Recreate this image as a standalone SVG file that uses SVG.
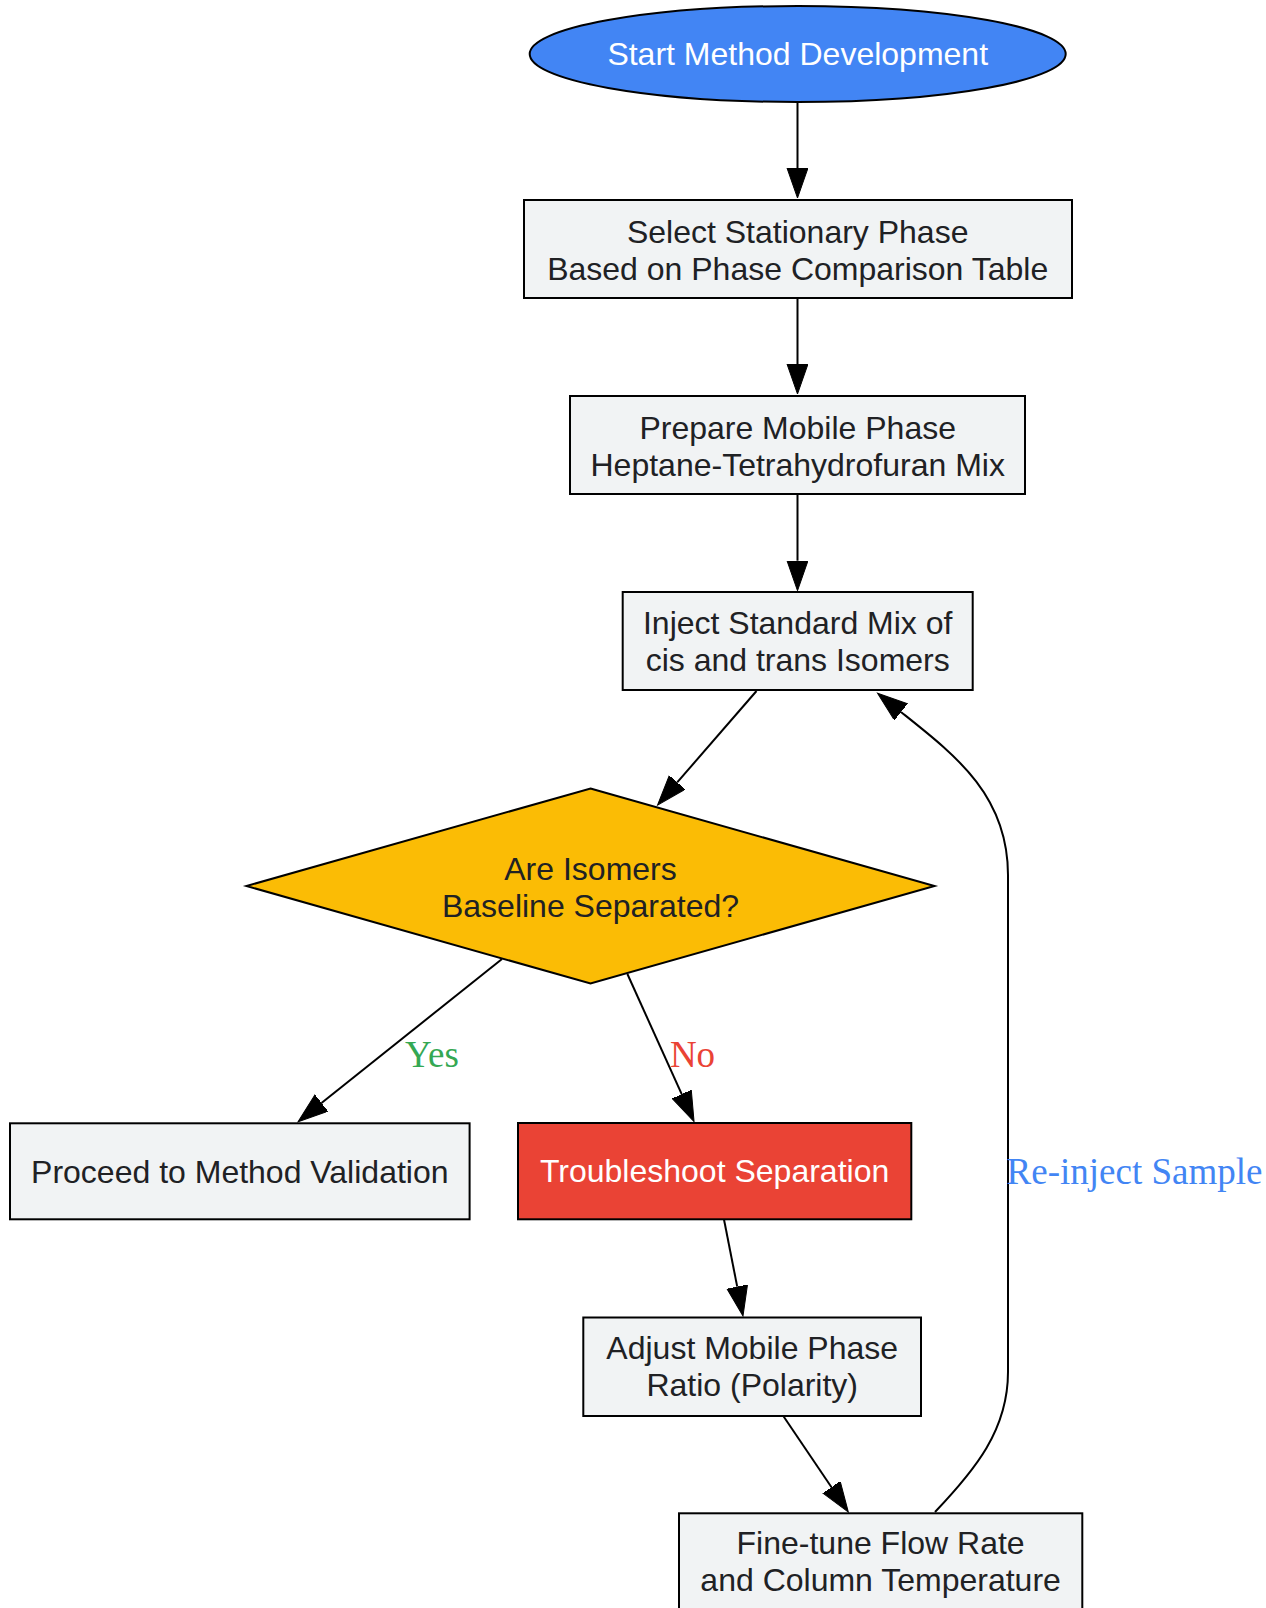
<svg xmlns="http://www.w3.org/2000/svg" width="1266" height="1608" viewBox="0 0 1266 1608">
<style>
.node{fill:#F1F3F4;stroke:#000;stroke-width:2}
.t{font-family:"Liberation Sans",Arial,sans-serif;font-size:32px;fill:#202124;text-anchor:middle}
.w{fill:#FFFFFF}
.e{fill:none;stroke:#000;stroke-width:2}
.lbl{font-family:"Liberation Serif","Times New Roman",serif;font-size:37px;text-anchor:middle}
</style>
<defs>
<marker id="ah" markerUnits="userSpaceOnUse" markerWidth="32" markerHeight="24" refX="0" refY="10.5" orient="auto" viewBox="0 0 32 24">
<path d="M0,0 L30,10.5 L0,21 Z" fill="#000" stroke="#000" stroke-width="1"/>
</marker>
</defs>
<rect width="1266" height="1608" fill="#FFFFFF"/>
<g id="connectors">
<path class="e" d="M797.5,102 L797.5,168" marker-end="url(#ah)"/>
<path class="e" d="M797.5,298 L797.5,364" marker-end="url(#ah)"/>
<path class="e" d="M797.5,494 L797.5,560.7" marker-end="url(#ah)"/>
<path class="e" d="M756.5,691 L677.2,782.4" marker-end="url(#ah)"/>
<path class="e" d="M502,959 L321.5,1103" marker-end="url(#ah)"/>
<path class="e" d="M627.4,974 L681.7,1094.2" marker-end="url(#ah)"/>
<path class="e" d="M724,1219.5 L737.2,1286.6" marker-end="url(#ah)"/>
<path class="e" d="M783.3,1416 L831.5,1487.2" marker-end="url(#ah)"/>
<path class="e" d="M935,1512 C975,1470 1008,1430 1008,1372 L1008,875 C1008,795 955,755 901,712" marker-end="url(#ah)"/>
<text class="lbl" x="432" y="1066.5" fill="#34A853">Yes</text>
<text class="lbl" x="692.5" y="1066.5" fill="#EA4335">No</text>
<text class="lbl" x="1134.5" y="1183.5" fill="#4285F4">Re-inject Sample</text>
</g>
<g id="start">
<ellipse cx="797.7" cy="54" rx="268" ry="48" fill="#4285F4" stroke="#000" stroke-width="2"/>
<text class="t w" x="797.7" y="65">Start Method Development</text>
</g>
<g id="select">
<rect class="node" x="524" y="200" width="548" height="98"/>
<text class="t" x="797.7" y="242.7">Select Stationary Phase</text>
<text class="t" x="797.7" y="279.5">Based on Phase Comparison Table</text>
</g>
<g id="prepare">
<rect class="node" x="570" y="396" width="455" height="98"/>
<text class="t" x="797.7" y="438.5">Prepare Mobile Phase</text>
<text class="t" x="797.7" y="475.5">Heptane-Tetrahydrofuran Mix</text>
</g>
<g id="inject">
<rect class="node" x="622.7" y="592" width="350" height="98"/>
<text class="t" x="797.7" y="633.5">Inject Standard Mix of</text>
<text class="t" x="797.7" y="670.5">cis and trans Isomers</text>
</g>
<g id="decision">
<polygon points="590.5,788.5 934.5,886 590.5,983.5 246.5,886" fill="#FBBC05" stroke="#000" stroke-width="2"/>
<text class="t" x="590.5" y="879.5">Are Isomers</text>
<text class="t" x="590.5" y="916.5">Baseline Separated?</text>
</g>
<g id="proceed">
<rect class="node" x="10" y="1123.3" width="459.6" height="96"/>
<text class="t" x="239.8" y="1182.7">Proceed to Method Validation</text>
</g>
<g id="troubleshoot">
<rect x="518" y="1123" width="393.3" height="96.3" fill="#EA4335" stroke="#000" stroke-width="2"/>
<text class="t w" x="714.6" y="1182">Troubleshoot Separation</text>
</g>
<g id="adjust">
<rect class="node" x="583.3" y="1317.5" width="337.7" height="98.5"/>
<text class="t" x="752.2" y="1358.5">Adjust Mobile Phase</text>
<text class="t" x="752.2" y="1395.5">Ratio (Polarity)</text>
</g>
<g id="finetune">
<rect class="node" x="679" y="1513.3" width="403.3" height="98"/>
<text class="t" x="880.6" y="1553.5">Fine-tune Flow Rate</text>
<text class="t" x="880.6" y="1590.5">and Column Temperature</text>
</g>
</svg>
